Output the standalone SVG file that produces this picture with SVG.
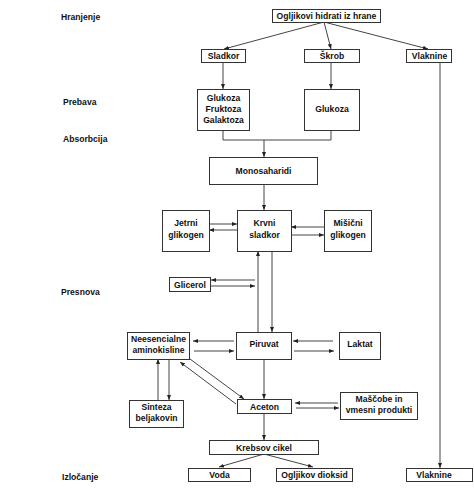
<svg xmlns="http://www.w3.org/2000/svg" width="474" height="495" viewBox="0 0 474 495">
<style>
.b{fill:#fff;stroke:#333;stroke-width:1}
.t{font-family:"Liberation Sans",Arial,sans-serif;font-weight:bold;font-size:8.6px;fill:#111;text-anchor:middle}
.l{font-family:"Liberation Sans",Arial,sans-serif;font-weight:bold;font-size:8.6px;fill:#111}
.c line,.c polyline{stroke:#444;stroke-width:1;fill:none}
.a{marker-end:url(#ah)}
</style>
<defs>
<marker id="ah" viewBox="0 0 10 8" refX="10" refY="4" markerWidth="5" markerHeight="4" markerUnits="userSpaceOnUse" orient="auto">
<path d="M0,0 L10,4 L0,8 z" fill="#222"/>
</marker>
</defs>
<rect width="474" height="495" fill="#fff"/>
<g id="labels">
<text class="l" x="61" y="20">Hranjenje</text>
<text class="l" x="63" y="105">Prebava</text>
<text class="l" x="63" y="142">Absorbcija</text>
<text class="l" x="61" y="295">Presnova</text>
<text class="l" x="62" y="480">Izločanje</text>
</g>
<g id="connectors" class="c">
<line class="a" x1="324" y1="22" x2="224" y2="49"/>
<line class="a" x1="324" y1="22" x2="331" y2="49"/>
<line class="a" x1="324" y1="22" x2="428" y2="49"/>
<line class="a" x1="223" y1="62" x2="223" y2="89"/>
<line class="a" x1="331" y1="62" x2="331" y2="89"/>
<polyline points="223,130 223,140 331,140 331,130"/>
<line class="a" x1="264" y1="140" x2="264" y2="157"/>
<line class="a" x1="440" y1="62" x2="440" y2="468"/>
<line class="a" x1="264" y1="184" x2="264" y2="210"/>
<line class="a" x1="209" y1="224" x2="237" y2="224"/>
<line class="a" x1="237" y1="230" x2="209" y2="230"/>
<line class="a" x1="324" y1="227" x2="291" y2="227"/>
<line class="a" x1="291" y1="235" x2="324" y2="235"/>
<line class="a" x1="258" y1="332" x2="258" y2="251"/>
<line class="a" x1="272" y1="251" x2="272" y2="332"/>
<line class="a" x1="255" y1="280" x2="211" y2="280"/>
<line class="a" x1="211" y1="286" x2="255" y2="286"/>
<line class="a" x1="234" y1="341" x2="193" y2="341"/>
<line class="a" x1="194" y1="351" x2="234" y2="351"/>
<line class="a" x1="333" y1="341" x2="293" y2="341"/>
<line class="a" x1="294" y1="351" x2="334" y2="351"/>
<line class="a" x1="158" y1="400" x2="158" y2="359"/>
<line class="a" x1="169" y1="359" x2="169" y2="400"/>
<line class="a" x1="190" y1="359" x2="244" y2="399"/>
<line class="a" x1="236" y1="404" x2="180" y2="362"/>
<line class="a" x1="264" y1="359" x2="264" y2="399"/>
<line class="a" x1="338" y1="403" x2="295" y2="403"/>
<line class="a" x1="296" y1="408" x2="339" y2="408"/>
<line class="a" x1="264" y1="413" x2="264" y2="440"/>
<line class="a" x1="264" y1="454" x2="219" y2="467"/>
<line class="a" x1="264" y1="454" x2="313" y2="467"/>
</g>
<g id="ogljikovi"><rect class="b" x="272.5" y="9.5" width="108" height="13"/><text class="t" x="326.5" y="19">Ogljikovi hidrati iz hrane</text></g>
<g id="sladkor"><rect class="b" x="201.5" y="49.5" width="44" height="13"/><text class="t" x="223.5" y="59">Sladkor</text></g>
<g id="skrob"><rect class="b" x="304.5" y="49.5" width="55" height="13"/><text class="t" x="332" y="59">Škrob</text></g>
<g id="vlaknine1"><rect class="b" x="406.5" y="49.5" width="45" height="13"/><text class="t" x="429.5" y="59">Vlaknine</text></g>
<g id="gfg"><rect class="b" x="197.5" y="89.5" width="52" height="41"/><text class="t" x="223.5" y="100.5">Glukoza</text><text class="t" x="223.5" y="112">Fruktoza</text><text class="t" x="223.5" y="122.5">Galaktoza</text></g>
<g id="glukoza"><rect class="b" x="304.5" y="89.5" width="55" height="41"/><text class="t" x="332" y="111.5">Glukoza</text></g>
<g id="monosaharidi"><rect class="b" x="209.5" y="157.5" width="108" height="27"/><text class="t" x="263.5" y="173.5">Monosaharidi</text></g>
<g id="jetrni"><rect class="b" x="162.5" y="210.5" width="47" height="41"/><text class="t" x="186" y="226">Jetrni</text><text class="t" x="186" y="238">glikogen</text></g>
<g id="krvni"><rect class="b" x="237.5" y="210.5" width="54" height="41"/><text class="t" x="264.5" y="226">Krvni</text><text class="t" x="264.5" y="238">sladkor</text></g>
<g id="misicni"><rect class="b" x="324.5" y="210.5" width="47" height="41"/><text class="t" x="348" y="226">Mišični</text><text class="t" x="348" y="238">glikogen</text></g>
<g id="glicerol"><rect class="b" x="169.5" y="277.5" width="41" height="14"/><text class="t" x="190" y="287.5">Glicerol</text></g>
<g id="neesencialne"><rect class="b" x="127.5" y="332.5" width="62" height="27"/><text class="t" x="158.5" y="342">Neesencialne</text><text class="t" x="158.5" y="352.5">aminokisline</text></g>
<g id="piruvat"><rect class="b" x="236.5" y="332.5" width="55" height="27"/><text class="t" x="264" y="347">Piruvat</text></g>
<g id="laktat"><rect class="b" x="339.5" y="332.5" width="41" height="27"/><text class="t" x="360" y="347">Laktat</text></g>
<g id="sinteza"><rect class="b" x="129.5" y="400.5" width="54" height="27"/><text class="t" x="156.5" y="410">Sinteza</text><text class="t" x="156.5" y="420.5">beljakovin</text></g>
<g id="aceton"><rect class="b" x="237.5" y="399.5" width="54" height="14"/><text class="t" x="264.5" y="409.5">Aceton</text></g>
<g id="mascobe"><rect class="b" x="340.5" y="392.5" width="77" height="27"/><text class="t" x="379" y="402">Maščobe in</text><text class="t" x="379" y="412.5">vmesni produkti</text></g>
<g id="krebsov"><rect class="b" x="209.5" y="440.5" width="109" height="14"/><text class="t" x="264" y="450.5">Krebsov cikel</text></g>
<g id="voda"><rect class="b" x="188.5" y="468.5" width="62" height="13"/><text class="t" x="219.5" y="478">Voda</text></g>
<g id="ogljikov"><rect class="b" x="276.5" y="468.5" width="76" height="13"/><text class="t" x="314.5" y="478">Ogljikov dioksid</text></g>
<g id="vlaknine2"><rect class="b" x="406.5" y="468.5" width="66" height="13"/><text class="t" x="434" y="478">Vlaknine</text></g>
</svg>
